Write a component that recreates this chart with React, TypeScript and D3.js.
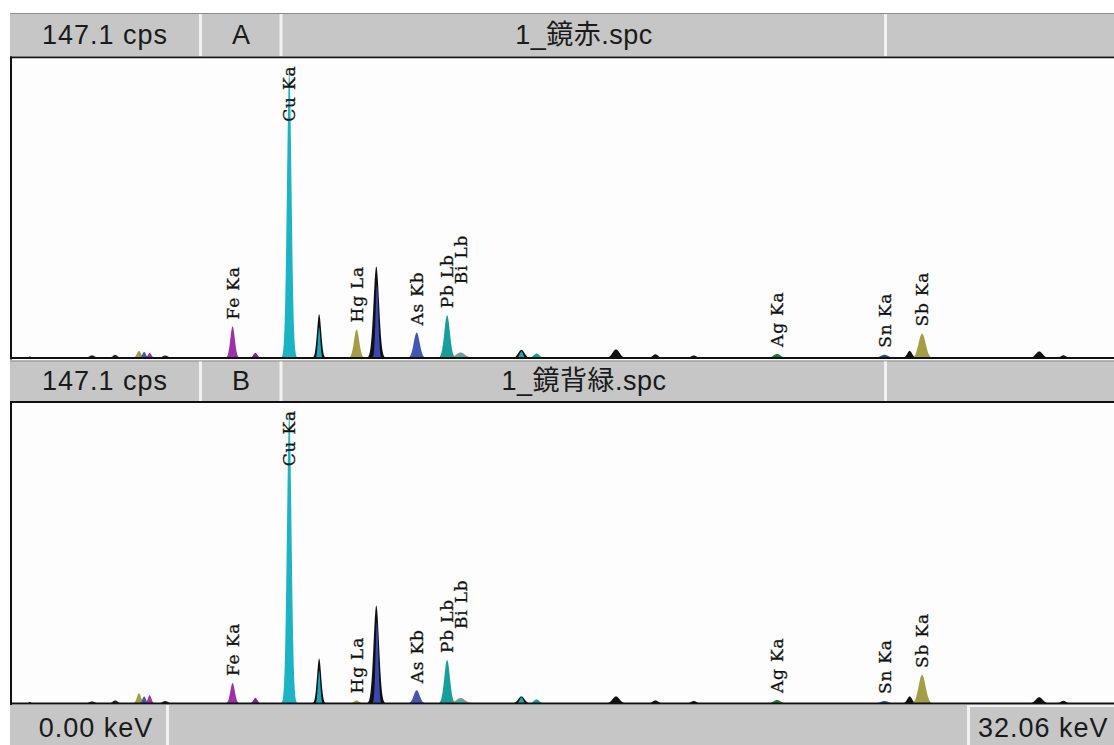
import React from 'react';
import * as d3 from 'd3';

// ---------- data ----------
const energyDomain = [0, 32.06];
const fullScaleCps = 147.1;
const scaleText = '147.1 cps';
const panelLetters = ['A', 'B'];
const panelFiles = ['1_鏡赤.spc', '1_鏡背緑.spc'];
const axisStartText = '0.00 keV';
const axisEndText = '32.06 keV';

// spectrum peaks (keV, sigma keV, cps in A, cps in B)
const peakIds = ['lo0', 'lo1', 'lo2', 'lo3', 'lo4', 'lo5', 'lo6', 'FeKa', 'FeKb', 'CuKa', 'CuKb', 'CuKbCore', 'HgLa', 'PbLa', 'PbLaCore', 'AsKb', 'PbLb', 'BiLb', 'PbLg', 'PbLgCore', 'p152', 'p175', 'p186', 'p197', 'AgKa', 'SnKa', 'p260', 'SbKa', 'p297', 'p305'];
const peakEnergies = [0.53, 2.33, 3.0, 3.69, 3.84, 4.0, 4.45, 6.40, 7.06, 8.04, 8.905, 8.905, 9.99, 10.56, 10.58, 11.73, 12.61, 13.0, 14.76, 14.76, 15.2, 17.5, 18.64, 19.75, 22.16, 25.27, 26.0, 26.36, 29.75, 30.45];
const peakSigmas = [0.03, 0.08, 0.07, 0.06, 0.05, 0.05, 0.08, 0.065, 0.06, 0.065, 0.06, 0.035, 0.075, 0.08, 0.04, 0.085, 0.08, 0.12, 0.09, 0.05, 0.08, 0.1, 0.08, 0.08, 0.1, 0.11, 0.07, 0.1, 0.1, 0.08];
const peakCpsA = [0.8, 1.3, 1.5, 3.5, 3.0, 2.5, 1.2, 15.5, 2.5, 141, 21.5, 15, 14, 45, 36, 12.5, 21, 2.5, 4, 3.2, 2.2, 4.2, 1.8, 1.2, 2.0, 1.6, 3.5, 12, 3.2, 1.3];
const peakCpsB = [0.8, 1.0, 1.5, 5.0, 3.5, 4.0, 1.2, 10, 2.7, 142, 22, 16, 1.5, 48, 40, 6.5, 21.3, 2.5, 3.5, 3.0, 2.0, 3.5, 1.5, 1.2, 1.7, 1.2, 3.5, 14, 3.1, 1.3];

const labelTexts = ['Fe Ka', 'Cu Ka', 'Hg La', 'As Kb', 'Pb Lb', 'Bi Lb', 'Ag Ka', 'Sn Ka', 'Sb Ka'];
const labelPeakIds = ['FeKa', 'CuKa', 'HgLa', 'AsKb', 'PbLb', 'BiLb', 'AgKa', 'SnKa', 'SbKa'];

// ---------- styles ----------
const peakColors: Record<string, string> = {
  lo0: '#111', lo1: '#222', lo2: '#222', lo3: '#a39d45', lo4: '#4456b0', lo5: '#9a32a8', lo6: '#222',
  FeKa: '#9a32a8', FeKb: '#7a2a88', CuKa: '#1cb4c4', CuKb: '#111', CuKbCore: '#1aa8b8',
  HgLa: '#a39d45', PbLa: '#111', PbLaCore: '#3a48b0', AsKb: '#4456b0', PbLb: '#169e98',
  BiLb: '#44b0b0', PbLg: '#111', PbLgCore: '#1aa8b8', p152: '#169e98', p175: '#111', p186: '#111',
  p197: '#111', AgKa: '#1c7a3c', SnKa: '#2c4c9c', p260: '#111', SbKa: '#a39d45', p297: '#111', p305: '#111',
};

const W = 1114;
const H = 745;
const LEFT = 10;
const panels = [
  { headerTop: 13, headerBottom: 56.5, plotTop: 58.5, base: 358 },
  { headerTop: 360.5, headerBottom: 401, plotTop: 403, base: 703.5 },
];
const footerTop = 705;
const headerFill = '#c6c6c6';
const sepFill = '#f2f2f2';
const uiFont = '"Liberation Sans", Arial, "Noto Sans CJK JP", sans-serif';

const x = d3.scaleLinear().domain(energyDomain).range([11.5, 1119]);

function peakPath(i: number, cps: number, y: d3.ScaleLinear<number, number>) {
  const e = peakEnergies[i];
  const s = peakSigmas[i];
  const pts = d3.range(e - 4 * s, e + 4 * s + 1e-9, s / 10).map((v) => [v, cps * Math.exp(-0.5 * ((v - e) / s) ** 2)] as [number, number]);
  return d3.area<[number, number]>().x((d) => x(d[0])).y0(y(0)).y1((d) => y(d[1]))(pts) || '';
}

function Panel({ idx }: { idx: number }) {
  const p = panels[idx];
  const y = d3.scaleLinear().domain([0, fullScaleCps]).range([p.base, p.plotTop]);
  const counts = idx === 0 ? peakCpsA : peakCpsB;
  const midY = (p.headerTop + p.headerBottom) / 2;
  const labelLen = 56;
  let prev: { x: number; bottom: number } | null = null;
  const labels = labelTexts.map((t, k) => {
    const pi = peakIds.indexOf(labelPeakIds[k]);
    const lx = x(peakEnergies[pi]);
    let bottom = y(counts[pi]) - 7;
    if (prev && Math.abs(lx - prev.x) < 20) bottom = Math.min(bottom, prev.bottom - 24);
    let anchor = 'start';
    let ly = bottom;
    if (bottom - labelLen < p.plotTop + 7) {
      anchor = 'end';
      ly = p.plotTop + 7;
    }
    prev = { x: lx, bottom };
    return { t, lx, ly, anchor };
  });
  return (
    <g>
      <rect x={LEFT} y={p.headerTop} width={W - LEFT} height={p.headerBottom - p.headerTop} fill={headerFill} />
      <rect x={LEFT} y={p.headerTop} width={W - LEFT} height={1} fill="#8c8c8c" />
      <rect x={199} y={p.headerTop + 1} width={3} height={p.headerBottom - p.headerTop - 1} fill={sepFill} />
      <rect x={279.5} y={p.headerTop + 1} width={3} height={p.headerBottom - p.headerTop - 1} fill={sepFill} />
      <rect x={884} y={p.headerTop + 1} width={3} height={p.headerBottom - p.headerTop - 1} fill={sepFill} />
      <text x={105} y={midY} dy="0.36em" textAnchor="middle" fontFamily={uiFont} fontSize={27} letterSpacing={1} fill="#1a1a1a">{scaleText}</text>
      <text x={241} y={midY} dy="0.36em" textAnchor="middle" fontFamily={uiFont} fontSize={27} fill="#1a1a1a">{panelLetters[idx]}</text>
      <text x={584} y={midY} dy="0.36em" textAnchor="middle" fontFamily={uiFont} fontSize={27} letterSpacing={0.5} fill="#1a1a1a">{panelFiles[idx]}</text>
      <rect x={LEFT} y={p.headerBottom} width={W - LEFT} height={2} fill="#111" />
      <rect x={LEFT + 2} y={p.plotTop} width={W - LEFT - 2} height={p.base - p.plotTop} fill="#fdfdfd" />
      <rect x={LEFT} y={p.headerBottom} width={2} height={p.base - p.headerBottom + 1.5} fill="#111" />
      {peakIds.map((id, i) => (
        <path key={id} d={peakPath(i, counts[i], y)} fill={peakColors[id]} stroke={id === 'BiLb' ? '#e07060' : 'none'} strokeWidth={id === 'BiLb' ? 1 : 0} />
      ))}
      <rect x={LEFT} y={p.base - 1} width={W - LEFT} height={2} fill="#111" />
      {labels.map((l) => (
        <text key={l.t} transform={`translate(${l.lx},${l.ly}) rotate(-90)`} textAnchor={l.anchor} dy="0.36em" fontFamily='"DejaVu Serif", serif' fontSize={17} letterSpacing={0.8} stroke="#111" strokeWidth={0.3} fill="#111">{l.t}</text>
      ))}
    </g>
  );
}

export default function App() {
  return (
    <svg width={W} height={H} viewBox={`0 0 ${W} ${H}`} style={{ position: 'absolute', left: 0, top: 0, background: '#fff' }}>
      <rect x={0} y={0} width={W} height={H} fill="#fff" />
      {panelLetters.map((_, i) => <Panel key={i} idx={i} />)}
      <rect x={LEFT} y={footerTop} width={W - LEFT} height={H - footerTop} fill={headerFill} />
      <rect x={166} y={footerTop} width={3} height={H - footerTop} fill={sepFill} />
      <rect x={967} y={footerTop} width={3} height={H - footerTop} fill={sepFill} />
      <rect x={967} y={footerTop} width={W - 967} height={2} fill={sepFill} />
      <text x={96} y={727} dy="0.36em" textAnchor="middle" fontFamily={uiFont} fontSize={27} letterSpacing={1} fill="#1a1a1a">{axisStartText}</text>
      <text x={978} y={727} dy="0.36em" textAnchor="start" fontFamily={uiFont} fontSize={27} letterSpacing={1} fill="#1a1a1a">{axisEndText}</text>
    </svg>
  );
}
